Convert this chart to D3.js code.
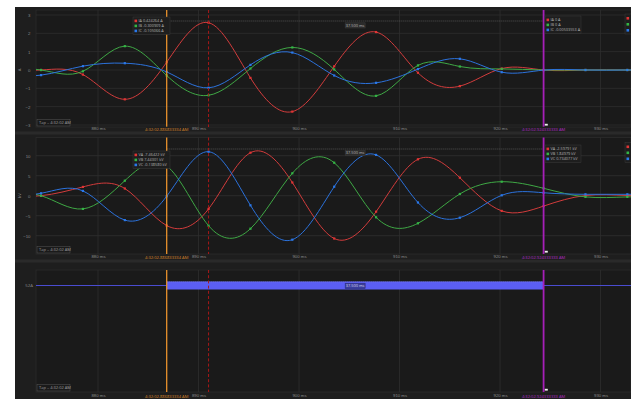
<!DOCTYPE html>
<html>
<head>
<meta charset="utf-8">
<script src="https://cdn.jsdelivr.net/npm/d3@7"></script>
<style>
  html, body { margin: 0; padding: 0; background: #ffffff; }
  svg { display: block; font-family: "Open Sans", "DejaVu Sans", sans-serif; }
</style>
</head>
<body>
<svg id="chart" width="631" height="399"></svg>
<script>
// Sample instants (ms after 4:32:02), 240 samples per second
const sampleTimes = [870.167, 874.333, 878.5, 882.667, 886.833, 891.0, 895.167, 899.333,
                     903.5, 907.667, 911.833, 916.0, 920.167, 924.333, 928.5, 932.667, 936.833];

// Phase currents (A)
const IA = [0.0, 0.0, -0.25, -1.6, 0.424264, 2.58, -0.43, -2.27, 0.2, 2.07, -0.15, -0.88, 0.08, 0, 0, 0, 0];
const IB = [0.0, 0.0, -0.07, 1.3, -0.300909, -1.38, 0.08, 1.23, 0.03, -1.41, 0.25, 0.19, 0.06, 0, 0, 0, 0];
const IC = [-0.3, -0.28, 0.21, 0.37, -0.105066, -0.97, 0.28, 0.95, -0.3, -0.7, 0.05, 0.61, -0.12, -0.00533553, 0, 0, 0];

// Phase voltages (kV)
const VA = [0.0, 0.0, 2.2, 1.8, -7.46422, -3.3, 10.75, 3.3, -10.7, -4.0, 9.1, 4.5, -3.8, -2.59791, 0.05, 0.05, 0.05];
const VB = [0.0, 0.0, -3.3, 3.75, 7.44301, -7.5, -8.25, 5.6, 8.25, -5.4, -6.9, 0.43, 3.5, 1.84979, -0.3, -0.3, -0.3];
const VC = [0.4, 0.6, 1.2, -6.1, -0.13858, 11.0, -2.4, -11.0, 2.25, 10.2, -1.7, -5.5, 0.1, 0.734077, 0.35, 0.35, 0.35];

// Axis ticks
const timeTicks = [880, 890, 900, 910, 920, 930];
const currentTicks = [-3, -2, -1, 0, 1, 2, 3];
const voltageTicks = [-10, -5, 0, 5, 10];

// Cursors
const cursorA = 886.833334;
const cursorB = 924.333333;
const refMark = 891.0;
const cursorLabels = ["4:32:02.886833334 AM", "4:32:02.924333333 AM"];
const deltaLabel = "37.500 ms";
const tapLabel = "Tap = 4:32:02 AM";

// Legends at each cursor
const currentNames = ["IA", "IB", "IC"];
const currentAtA = ["0.424264 A", "-0.300909 A", "-0.105066 A"];
const currentAtB = ["0 A", "0 A", "-0.00533553 A"];
const voltageNames = ["VA", "VB", "VC"];
const voltageAtA = ["-7.46422 kV", "7.44301 kV", "-0.138580 kV"];
const voltageAtB = ["-2.59791 kV", "1.84979 kV", "0.734077 kV"];

// Digital channel
const digitalName = "52A";
const digitalHigh = [886.833334, 924.333333];

const phaseColors = ["#d23c3c", "#3fa845", "#2c72dc"];
const legendColors = ["#e03434", "#33b545", "#2a78ea"];

const svg = d3.select("#chart");
const W = 631, H = 399;
const left = 36, right = 631;

const x = d3.scaleLinear().domain([873.83, 933.03]).range([left, right]);

// background
svg.append("rect").attr("x", 15).attr("y", 7).attr("width", W - 15).attr("height", H - 7).attr("fill", "#1e1e1e");
[[131.5, 3], [259.5, 3]].forEach(([y, h]) => {
  svg.append("rect").attr("x", 15).attr("y", y).attr("width", W - 15).attr("height", h).attr("fill", "#2a2a2a");
});

const panels = [
  { top: 10, bottom: 127, labelY: 130.5, yScale: d3.scaleLinear().domain([-3, 3]).range([125, 15]), ticks: currentTicks,
    unit: "A", series: [IA, IB, IC], names: currentNames, atA: currentAtA, atB: currentAtB,
    legA: { x: 133, y: 17 }, legB: { x: 545, y: 16 }, farY: 14, dotY: 21, deltaY: 22.8 },
  { top: 137.5, bottom: 254, labelY: 258.5, yScale: d3.scaleLinear().domain([-10, 10]).range([235.7, 155.7]), ticks: voltageTicks,
    unit: "kV", series: [VA, VB, VC], names: voltageNames, atA: voltageAtA, atB: voltageAtB,
    legA: { x: 133, y: 151 }, legB: { x: 545, y: 145 }, farY: 142.5, dotY: 149, deltaY: 150.5 },
  { top: 270, bottom: 392, labelY: 397.5, digital: true }
];

panels.forEach((p, pi) => {
  const g = svg.append("g");
  const clipId = "clip" + pi;
  svg.append("clipPath").attr("id", clipId).append("rect")
    .attr("x", left).attr("y", p.top).attr("width", right - left).attr("height", p.bottom - p.top);

  g.append("rect").attr("x", left).attr("y", p.top).attr("width", right - left).attr("height", p.bottom - p.top)
    .attr("fill", "#1a1a1a").attr("stroke", "#2c2c2c").attr("stroke-width", 0.8);

  // vertical grid
  g.selectAll(".vg").data(timeTicks).join("line")
    .attr("x1", d => x(d)).attr("x2", d => x(d)).attr("y1", p.top).attr("y2", p.bottom)
    .attr("stroke", "#2e2e2e").attr("stroke-width", 0.8);

  // x axis labels
  const xAxis = d3.axisBottom(x).tickValues(timeTicks).tickFormat(d => d + " ms").tickSize(0);
  const xa = g.append("g").attr("transform", `translate(0,${p.labelY - 4.2})`).call(xAxis);
  xa.select(".domain").remove();
  xa.selectAll("text").attr("fill", "#8a8a8a").attr("font-size", 4.3).attr("dy", 0).attr("y", 4.2);

  if (!p.digital) {
    const y = p.yScale;
    g.selectAll(".hg").data(p.ticks).join("line")
      .attr("x1", left).attr("x2", right).attr("y1", d => y(d)).attr("y2", d => y(d))
      .attr("stroke", "#2e2e2e").attr("stroke-width", 0.8);
    const yAxis = d3.axisLeft(y).tickValues(p.ticks).tickFormat(d3.format("d")).tickSize(0).tickPadding(0);
    const ya = g.append("g").attr("transform", `translate(30.5,0)`).call(yAxis);
    ya.select(".domain").remove();
    ya.selectAll("text").attr("fill", "#8a8a8a").attr("font-size", 4.3);
    g.append("text").attr("transform", `translate(20.5,${y(0)}) rotate(-90)`).attr("text-anchor", "middle")
      .attr("fill", "#8a8a8a").attr("font-size", 4.3).text(p.unit);

    const line = d3.line().x((d, i) => x(sampleTimes[i])).y(d => y(d)).curve(d3.curveNatural);
    const plot = g.append("g").attr("clip-path", `url(#${clipId})`);
    p.series.forEach((s, si) => {
      plot.append("path").datum(s).attr("d", line).attr("fill", "none")
        .attr("stroke", phaseColors[si]).attr("stroke-width", 1);
    });
    p.series.forEach((s, si) => {
      plot.selectAll(".m" + si).data(s).join("rect")
        .attr("x", (d, i) => x(sampleTimes[i]) - 1.1).attr("y", d => y(d) - 1.1)
        .attr("width", 2.2).attr("height", 2.2).attr("fill", legendColors[si]);
    });
  } else {
    const yRow = 285.5;
    g.append("text").attr("x", 33).attr("y", yRow + 1.5).attr("text-anchor", "end")
      .attr("fill", "#8a8a8a").attr("font-size", 4.3).text(digitalName);
    g.append("line").attr("x1", left).attr("x2", x(digitalHigh[0])).attr("y1", yRow).attr("y2", yRow)
      .attr("stroke", "#4a4cd0").attr("stroke-width", 1);
    g.append("line").attr("x1", x(digitalHigh[1])).attr("x2", right).attr("y1", yRow).attr("y2", yRow)
      .attr("stroke", "#4a4cd0").attr("stroke-width", 1);
    g.append("rect").attr("x", x(digitalHigh[0])).attr("y", yRow - 4).attr("width", x(digitalHigh[1]) - x(digitalHigh[0]))
      .attr("height", 8).attr("fill", "#5b5ef4");
    g.append("line").attr("x1", x(digitalHigh[0])).attr("x2", x(digitalHigh[1])).attr("y1", yRow - 3.7).attr("y2", yRow - 3.7)
      .attr("stroke", "#9a9cff").attr("stroke-width", 0.5).attr("stroke-dasharray", "1,1");
  }

  // measurement between cursors
  const mid = (x(cursorA) + x(cursorB)) / 2;
  if (!p.digital) {
    g.append("line").attr("x1", x(cursorA)).attr("x2", x(cursorB)).attr("y1", p.dotY).attr("y2", p.dotY)
      .attr("stroke", "#6a6a6a").attr("stroke-width", 0.7).attr("stroke-dasharray", "1,1");
    g.append("rect").attr("x", mid - 10).attr("y", p.deltaY).attr("width", 20).attr("height", 5.2)
      .attr("fill", "#2b2b2b").attr("stroke", "#3c3c3c").attr("stroke-width", 0.5);
    g.append("text").attr("x", mid).attr("y", p.deltaY + 3.9).attr("text-anchor", "middle")
      .attr("fill", "#b8b8b8").attr("font-size", 3.9).text(deltaLabel);
  } else {
    g.append("rect").attr("x", mid - 10).attr("y", 283.2).attr("width", 20).attr("height", 5.4)
      .attr("fill", "#3b3e9c").attr("stroke", "#2a2c70").attr("stroke-width", 0.5);
    g.append("text").attr("x", mid).attr("y", 287.1).attr("text-anchor", "middle")
      .attr("fill", "#d8d8f0").attr("font-size", 3.9).text(deltaLabel);
  }

  // reference mark
  g.append("line").attr("x1", x(refMark)).attr("x2", x(refMark)).attr("y1", p.top).attr("y2", p.bottom)
    .attr("stroke", "#a81818").attr("stroke-width", 1).attr("stroke-dasharray", "3,2.2");
  // cursors
  g.append("line").attr("x1", x(cursorA)).attr("x2", x(cursorA)).attr("y1", p.top).attr("y2", p.bottom)
    .attr("stroke", "#e8912c").attr("stroke-width", 1.3);
  g.append("line").attr("x1", x(cursorB)).attr("x2", x(cursorB)).attr("y1", p.top).attr("y2", p.bottom)
    .attr("stroke", "#a61fb8").attr("stroke-width", 1.8);
  g.append("rect").attr("x", x(cursorB) + 1.2).attr("y", p.bottom - 3.2).attr("width", 3).attr("height", 1.8)
    .attr("fill", "#f2f2f2");

  // cursor time labels
  [[cursorA, "#d9852a"], [cursorB, "#b42ac8"]].forEach(([c, col], k) => {
    g.append("rect").attr("x", x(c) - 20).attr("y", p.labelY - 3.8).attr("width", 40).attr("height", 5)
      .attr("fill", "#1e1e1e");
    g.append("text").attr("x", x(c)).attr("y", p.labelY).attr("text-anchor", "middle")
      .attr("fill", col).attr("font-size", 4.1).text(cursorLabels[k]);
  });

  // trigger time box
  g.append("rect").attr("x", 37).attr("y", p.bottom - 7.5).attr("width", 33).attr("height", 6.5)
    .attr("fill", "#1a1a1a").attr("stroke", "#555").attr("stroke-width", 0.5);
  g.append("text").attr("x", 39).attr("y", p.bottom - 2.8).attr("fill", "#a0a0a0").attr("font-size", 4)
    .text(tapLabel);

  // legends
  if (!p.digital) {
    const drawLegend = (pos, names, vals, w) => {
      const lg = g.append("g");
      lg.append("rect").attr("x", pos.x).attr("y", pos.y).attr("width", w).attr("height", 17.5)
        .attr("fill", "#1e1e1e").attr("stroke", "#3a3a3a").attr("stroke-width", 0.5);
      names.forEach((n, i) => {
        lg.append("rect").attr("x", pos.x + 1.5).attr("y", pos.y + 2.6 + i * 5).attr("width", 2.6).attr("height", 2.6)
          .attr("fill", legendColors[i]);
        lg.append("text").attr("x", pos.x + 5.5).attr("y", pos.y + 5 + i * 5).attr("fill", "#b4b4b4")
          .attr("font-size", 3.8).text(n + "  " + vals[i]);
      });
    };
    drawLegend(p.legA, p.names, p.atA, 37);
    drawLegend(p.legB, p.names, p.atB, 36);
    // partially visible legend at the right edge
    const fr = g.append("g");
    fr.append("rect").attr("x", 625).attr("y", p.farY).attr("width", 20).attr("height", 20)
      .attr("fill", "#1e1e1e").attr("stroke", "#3a3a3a").attr("stroke-width", 0.5);
    [0, 1, 2].forEach(i => {
      fr.append("rect").attr("x", 626.5).attr("y", p.farY + 3 + i * 6).attr("width", 2.6).attr("height", 2.6)
        .attr("fill", legendColors[i]);
    });
  }
});
</script>
</body>
</html>
